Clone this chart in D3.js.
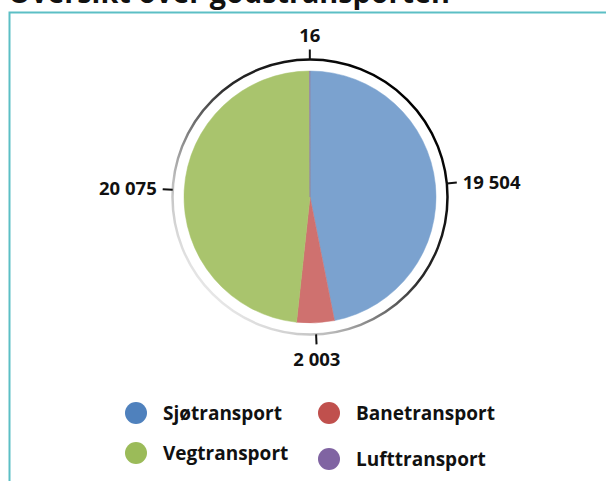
<!DOCTYPE html>
<html>
<head>
<meta charset="utf-8">
<script src="https://cdnjs.cloudflare.com/ajax/libs/d3/7.8.5/d3.min.js"></script>
<style>
  body { margin: 0; background: #fff; }
  text { font-family: "Open Sans", Roboto, "DejaVu Sans", sans-serif; font-weight: bold; fill: #111; }
</style>
</head>
<body>
<div class="central"></div>
<script>
//Data
var categories = ["Sjøtransport", "Banetransport", "Vegtransport", "Lufttransport"];
var values = [19504, 2003, 20075, 16];
var valueLabels = ["19 504", "2 003", "20 075", "16"];
var legendOrder = ["Sjøtransport", "Banetransport", "Vegtransport", "Lufttransport"];
var title = "Oversikt over godstransporten";

//Size
var width = 606,
	height = 481;

var cx = 310, cy = 197,
	radius = 126,
	ringRadius = 137.5;

var sliceColor = d3.scaleOrdinal()
	.domain(categories)
	.range(["#7ba2cf", "#cf716f", "#a9c46d", "#8f72b0"]);

var legendColor = d3.scaleOrdinal()
	.domain(categories)
	.range(["#4f81bd", "#c0504d", "#9bbb59", "#8064a2"]);

var svg = d3.select(".central")
	.append("svg")
	.attr("width", width)
	.attr("height", height);

var defs = svg.append("defs");
var ringGrad = defs.append("linearGradient")
	.attr("id", "ringGrad")
	.attr("x1", "0.85").attr("y1", "0.15")
	.attr("x2", "0.1").attr("y2", "0.9");
ringGrad.append("stop").attr("offset", "0").attr("stop-color", "#000");
ringGrad.append("stop").attr("offset", "0.4").attr("stop-color", "#2a2a2a");
ringGrad.append("stop").attr("offset", "0.75").attr("stop-color", "#bbb");
ringGrad.append("stop").attr("offset", "1").attr("stop-color", "#f4f4f4");

//Title (clipped at top) and frame
svg.append("text")
	.attr("x", 8)
	.attr("y", 3)
	.attr("textLength", 442)
	.attr("lengthAdjust", "spacingAndGlyphs")
	.style("font-size", "30px")
	.text(title);

svg.append("path")
	.attr("d", "M9.5,481 L9.5,12.5 L606,12.5")
	.style("fill", "none")
	.style("stroke", "#5cbfc5")
	.style("stroke-width", 2);

var g = svg.append("g")
	.attr("transform", "translate(" + cx + "," + cy + ")");

var pie = d3.pie().sort(null).value(function(d){ return d.value; });
var data = categories.map(function(c, i){
	return {name: c, value: values[i], label: valueLabels[i]};
});
var arcs = pie(data);

var arc = d3.arc().innerRadius(0).outerRadius(radius);

//Outer ring
g.append("circle")
	.attr("r", ringRadius)
	.style("fill", "none")
	.style("stroke", "url(#ringGrad)")
	.style("stroke-width", 2.5);

g.selectAll("path.slice")
	.data(arcs)
	.enter()
	.append("path")
	.attr("class", "slice")
	.attr("d", arc)
	.style("fill", function(d){ return sliceColor(d.data.name); })
	.style("stroke", function(d){ return sliceColor(d.data.name); })
	.style("stroke-width", 0.5);

//Ticks and value labels
var tickIn = ringRadius, tickOut = ringRadius + 10;
arcs.forEach(function(d){
	var a = (d.startAngle + d.endAngle) / 2;
	var sx = Math.sin(a), sy = -Math.cos(a);
	g.append("line")
		.attr("x1", sx * tickIn).attr("y1", sy * tickIn)
		.attr("x2", sx * tickOut).attr("y2", sy * tickOut)
		.style("stroke", "#111")
		.style("stroke-width", 2);
	var lx = sx * (tickOut + 6), ly = sy * (tickOut + 6);
	var anchor = "middle", dy = "0.35em";
	if (sx > 0.5) anchor = "start";
	else if (sx < -0.5) anchor = "end";
	if (Math.abs(sx) <= 0.5) dy = sy < 0 ? "-0.1em" : "0.85em";
	g.append("text")
		.attr("x", lx).attr("y", ly)
		.attr("dy", dy)
		.attr("text-anchor", anchor)
		.style("font-size", "18.5px")
		.text(d.data.label);
});

//Legend
var legendPos = [[136, 413], [329, 413], [136, 453], [329, 459]];
var legend = svg.selectAll(".legendItem")
	.data(legendOrder)
	.enter()
	.append("g")
	.attr("class", "legendItem")
	.attr("transform", function(d, i){
		return "translate(" + legendPos[i][0] + "," + legendPos[i][1] + ")";
	});
legend.append("circle")
	.attr("r", 11)
	.style("fill", function(d){ return legendColor(d); });
legend.append("text")
	.attr("x", 27)
	.attr("dy", "0.35em")
	.style("font-size", "19px")
	.text(function(d){ return d; });
</script>
</body>
</html>
